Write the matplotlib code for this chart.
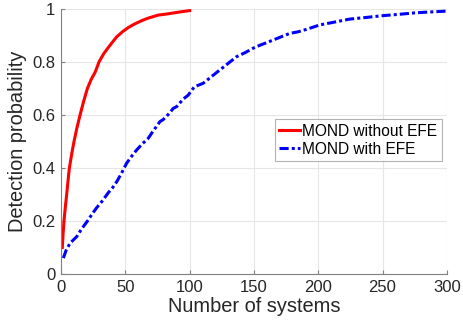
import matplotlib
matplotlib.use("Agg")
import matplotlib.pyplot as plt

plt.rcParams['font.family'] = ['Liberation Sans', 'DejaVu Sans']

# Data
red_x = [1, 1.6, 2.3, 3.3, 4.4, 5.4, 6.5, 8.2, 10.1, 12.3, 14.8, 17.5, 20.5, 23.5, 26.4,
         28, 29.5, 33, 36.8, 40, 43.3, 48, 52.3, 57, 62.7, 68, 75.6, 82, 88.6, 94, 100]
red_y = [0.10, 0.15, 0.20, 0.25, 0.30, 0.35, 0.40, 0.45, 0.50, 0.55, 0.60, 0.65, 0.70,
         0.735, 0.76, 0.78, 0.80, 0.83, 0.855, 0.875, 0.895, 0.915, 0.93, 0.943, 0.956,
         0.966, 0.977, 0.981, 0.986, 0.99, 0.994]

blue_x = [1.8, 4, 7, 12.2, 16, 21.2, 24, 27.7, 32, 36.8, 40, 43.3, 47, 51, 55, 58.8, 63,
          67.8, 71.7, 76.9, 79.5, 83, 87.3, 90, 95, 98.9, 103.6, 110.6, 117, 123.5, 130,
          136.5, 143, 149.4, 154, 159.8, 166, 172.7, 177.9, 184.4, 192, 201.2, 212, 224.5,
          237, 250.4, 263, 276.4, 288, 299.7]
blue_y = [0.06, 0.09, 0.116, 0.141, 0.17, 0.204, 0.225, 0.25, 0.275, 0.307, 0.325, 0.348,
          0.38, 0.418, 0.445, 0.468, 0.49, 0.512, 0.54, 0.575, 0.583, 0.60, 0.625, 0.632,
          0.66, 0.675, 0.706, 0.72, 0.745, 0.77, 0.795, 0.82, 0.835, 0.852, 0.862, 0.873,
          0.885, 0.898, 0.908, 0.914, 0.925, 0.94, 0.95, 0.962, 0.968, 0.975, 0.98, 0.986,
          0.989, 0.992]

x_ticks = [0, 50, 100, 150, 200, 250, 300]
y_ticks = [0, 0.2, 0.4, 0.6, 0.8, 1]
y_tick_labels = ['0', '0.2', '0.4', '0.6', '0.8', '1']

fig = plt.figure(figsize=(4.64, 3.30), dpi=100)
ax = fig.add_axes([0.1315, 0.1697, 0.963 - 0.1315, 0.9727 - 0.1697])

ax.plot(red_x, red_y, color='#ff0000', lw=2.2, label='MOND without EFE')
ax.plot(blue_x, blue_y, color='#0000ff', lw=2.2, linestyle=(0, (3.0, 1.0, 1.0, 1.0)),
        label='MOND with EFE')

ax.set_xlim(0, 300)
ax.set_ylim(0, 1)
ax.set_xticks(x_ticks)
ax.set_yticks(y_ticks)
ax.set_yticklabels(y_tick_labels)

ax.grid(True, color='#e6e6e6', lw=0.8)
ax.set_axisbelow(True)
for s in ['top', 'right']:
    ax.spines[s].set_visible(False)
for s in ['left', 'bottom']:
    ax.spines[s].set_color('#808080')
    ax.spines[s].set_linewidth(0.8)

ax.tick_params(direction='in', length=3, width=0.8, color='#808080',
               labelsize=12, labelcolor='#262626', pad=4)

ax.set_xlabel('Number of systems', fontsize=14.4, color='#262626', labelpad=2)
ax.set_ylabel('Detection probability', fontsize=14.4, color='#262626', labelpad=4)

leg = ax.legend(loc='upper right', bbox_to_anchor=(1.0 - (447 - 441.7) / 386, 1 - (119 - 9) / 265),
                fontsize=11.2, frameon=True, fancybox=False, handlelength=1.3,
                handletextpad=0.15, borderpad=0.3, labelspacing=0.2, borderaxespad=0)
leg.get_frame().set_edgecolor('#a0a0a0')
leg.get_frame().set_linewidth(0.8)

fig.savefig('out.png', dpi=100)
